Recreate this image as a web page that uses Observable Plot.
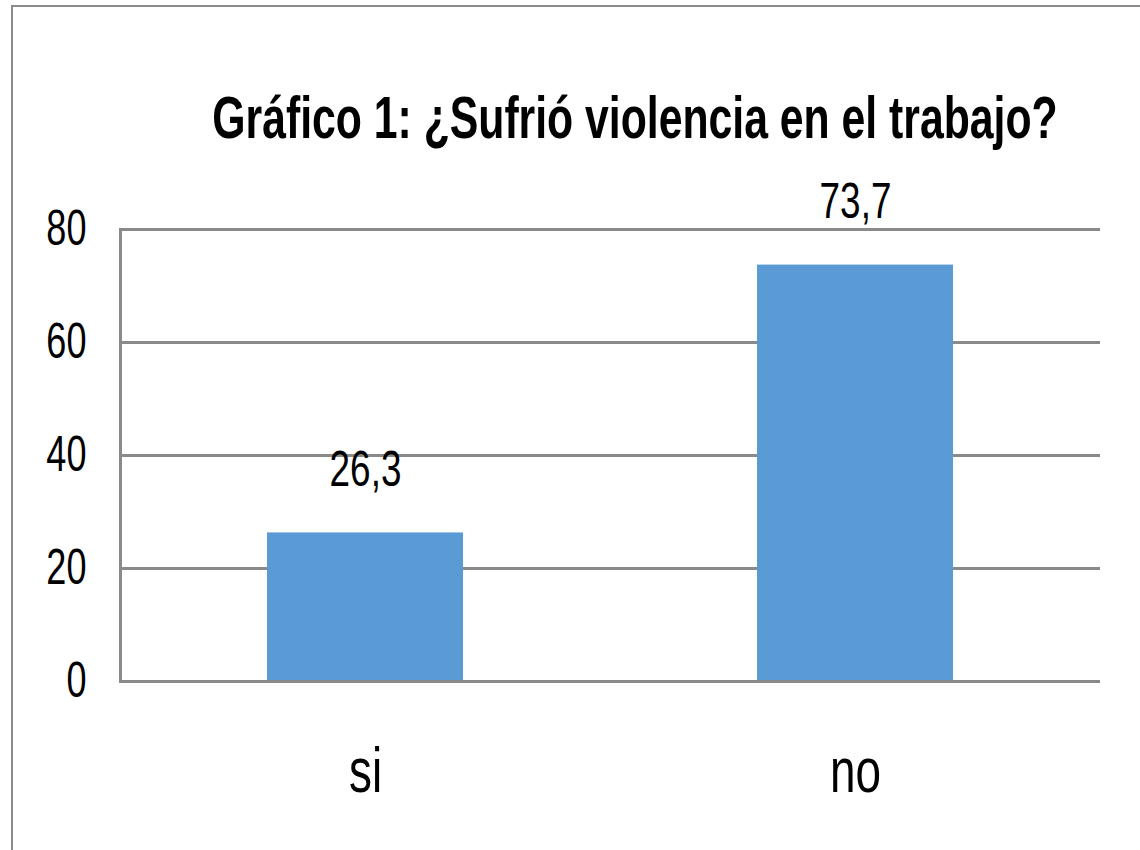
<!DOCTYPE html>
<html>
<head>
<meta charset="utf-8">
<script src="https://cdn.jsdelivr.net/npm/d3@7"></script>
<script src="https://cdn.jsdelivr.net/npm/@observablehq/plot@0.6"></script>
<style>
  html, body { margin: 0; padding: 0; background: #fff; }
  #wrap { position: relative; width: 1140px; height: 850px; overflow: hidden; }
  #frame { position: absolute; left: 11px; top: 5px; width: 1200px; height: 900px;
           border-left: 2px solid #8c8c8c; border-top: 2px solid #8c8c8c; pointer-events: none; }
  svg { display: block; }
</style>
</head>
<body>
<div id="wrap"><div id="frame"></div></div>
<script>
const titleText = "Gráfico 1: ¿Sufrió violencia en el trabajo?";
const categories = ["si", "no"];
const values = [26.3, 73.7];
const valueLabels = ["26,3", "73,7"];
const yTicks = [0, 20, 40, 60, 80];
const gridTicks = [0, 20, 40, 60, 80];

const data = categories.map((c, i) => ({cat: c, value: values[i], label: valueLabels[i]}));

const FONT = "'Liberation Sans', Arial, sans-serif";
const GRID = "#8a8a8a";

const chart = Plot.plot({
  width: 1140,
  height: 850,
  marginTop: 229,
  marginBottom: 169,
  marginLeft: 120,
  marginRight: 40,
  style: {fontFamily: FONT, color: "#000", background: "#fff", overflow: "visible"},
  x: {domain: categories, paddingInner: 0.6, paddingOuter: 0.3, label: null},
  y: {domain: [0, 80], label: null},
  marks: [
    Plot.ruleY(gridTicks, {stroke: GRID, strokeWidth: 3}),
    Plot.barY(data, {x: "cat", y: "value", fill: "#5B9BD5"}),
    Plot.frame({anchor: "left", stroke: GRID, strokeWidth: 3}),
    Plot.ruleY([0], {stroke: GRID, strokeWidth: 3}),
    Plot.text(data, {x: "cat", y: "value", text: "label", lineAnchor: "middle", dy: -63, fontSize: 45, fill: "#000"}),
    Plot.axisY({ticks: yTicks, tickSize: 0, tickPadding: 34, fontSize: 44, tickFormat: d => String(d), label: null}),
    Plot.axisX({tickSize: 0, tickPadding: 66, fontSize: 56, label: null})
  ]
});

// narrow, slightly tall lettering as in the reference
d3.select(chart).selectAll("text").each(function() {
  const t = this.getAttribute("transform");
  if (t) this.setAttribute("transform", t + " scale(0.82,1.12)");
});

// title (centred over the chart, narrow bold lettering)
d3.select(chart).append("text")
  .attr("transform", "translate(635,138) scale(0.855,1.18)")
  .attr("font-family", FONT)
  .attr("font-weight", "bold")
  .attr("font-size", 50)
  .attr("text-anchor", "middle")
  .attr("fill", "#000")
  .text(titleText);

document.getElementById("wrap").prepend(chart);
</script>
</body>
</html>
